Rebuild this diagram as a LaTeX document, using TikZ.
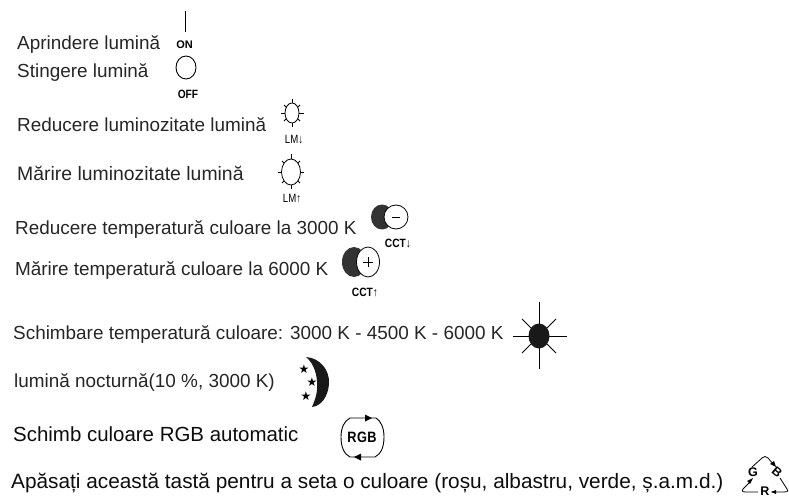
\documentclass[tikz,border=0pt]{standalone}
\usepackage{fontspec}
\setmainfont{Liberation Sans}
\newfontfamily\symfont{DejaVu Sans}
\usetikzlibrary{arrows.meta,shapes.geometric}
\tikzset{
 lab/.style={anchor=base west,inner sep=0pt,font=\fontsize{18.9pt}{20pt}\selectfont,text=black!85},
 bigger/.style={font=\fontsize{20.45pt}{22pt}\selectfont,text=black!95},
 biggest/.style={font=\fontsize{20.8pt}{22pt}\selectfont,text=black!95},
 small/.style={inner sep=0pt,font=\fontsize{12pt}{12pt}\selectfont\bfseries,xscale=.85},
 thin label/.style={inner sep=0pt,font=\fontsize{12pt}{12pt}\selectfont,xscale=.8},
 tri/.style={inner sep=0pt,font=\fontsize{12.5pt}{12pt}\selectfont\bfseries},
 icon/.style={draw=black,line width=.8pt,fill=white},
 ray/.style={line width=.8pt},
 moonstar/.style={inner sep=0pt,font=\fontsize{12pt}{12pt}\selectfont\symfont}
}
\begin{document}
\begin{tikzpicture}[x=1pt,y=-1pt]
\useasboundingbox (0,0) rectangle (789,497);
\node[lab] (t1) at (17,50) {Aprindere lumină};
\node[lab] (t2) at (17,78) {Stingere lumină};
\node[lab] (t3) at (17,132) {Reducere luminozitate lumină};
\node[lab,font=\fontsize{19.4pt}{20pt}\selectfont] (t4) at (17,181) {Mărire luminozitate lumină};
\node[lab] (t5) at (15,234) {Reducere temperatură culoare la 3000 K};
\node[lab] (t6) at (15,275) {Mărire temperatură culoare la 6000 K};
\node[lab] (t7) at (13,339) {Schimbare temperatură culoare: 3000 K - 4500 K - 6000 K};
\node[lab] (t8) at (14,387) {lumină nocturnă(10 \%, 3000 K)};
\node[lab,bigger] (t9) at (13,441) {Schimb culoare RGB automatic};
\node[lab,biggest] (t10) at (11,488) {Apăsați această tastă pentru a seta o culoare (roșu, albastru, verde, ș.a.m.d.)};
% ON/OFF
\draw[ray] (185,11) -- (185,32);
\node[inner sep=0pt,font=\fontsize{11pt}{11pt}\selectfont\bfseries] (on) at (184.5,44.5) {ON};
\draw[line width=.9pt] (186,67.5) ellipse (10 and 11.5);
\node[small] (off) at (188,94) {OFF};
% LM down
\draw[icon] (292,113) ellipse (7 and 10);
\foreach \a/\b/\c/\d in {292/99/292/103,292/123/292/127,281/113/285/113,299/113/304/113,284/105/286/107,298/107/300/105,284/121/286/119,298/119/300/121}
  \draw[ray] (\a,\b) -- (\c,\d);
\node[thin label] (lmd) at (294,140) {LM↓};
% LM up
\draw[icon] (291,172) ellipse (9.5 and 13);
\foreach \a/\b/\c/\d in {291/154/291/159,291/185/291/189,278/172/281/172,301/172/304/172,282/161/284/163,298/163/300/161,282/183/284/181,298/181/300/183}
  \draw[ray] (\a,\b) -- (\c,\d);
\node[thin label] (lmu) at (292,199) {LM↑};
% CCT-
\fill[black!80] (382,217) ellipse (11 and 12.5);
\draw[icon] (396,217) circle (12);
\draw[ray] (392,217) -- (400,217);
\node[small] (cctd) at (398,243) {CCT↓};
% CCT+
\fill[black!80] (354,262) ellipse (12 and 15);
\draw[icon] (368,262) ellipse (11.5 and 15);
\draw[ray] (363,262) -- (373,262) (368,257) -- (368,267);
\node[small] (cctu) at (365,292) {CCT↑};
% sun
\foreach \a/\r in {0/28,45/24,90/33,135/24,180/26,225/24,270/34,315/24}
  \draw[ray] (539,336) -- +(\a:\r);
\fill[black!90] (539,336) ellipse (10.5 and 12.5);
% moon
\fill[black!90] (306,357) .. controls (320,358) and (330,370) .. (329,384)
  .. controls (328,397) and (321,406) .. (312,407)
  .. controls (316,398) and (318,390) .. (317,381)
  .. controls (316,370) and (312,362) .. (306,357) -- cycle;
\node[moonstar] (s1) at (304,369) {★};
\node[moonstar] (s2) at (312,382) {★};
\node[moonstar] (s3) at (306,396) {★};
% RGB
\draw[line width=.9pt] (350,418) -- (376,418)
  .. controls (381,421) and (384,428) .. (384,437)
  .. controls (384,447) and (381,454) .. (375,457) -- (350,457)
  .. controls (344,454) and (341,447) .. (341,437)
  .. controls (341,428) and (344,421) .. (350,418) -- cycle;
\fill (372,418) -- (365,414.5) -- (365,421.5) -- cycle;
\fill (354,457) -- (361,453.5) -- (361,460.5) -- cycle;
\node[inner sep=0pt,font=\fontsize{15pt}{15pt}\selectfont\bfseries,xscale=.85] (rgb) at (362,437.5) {R\kern.6pt G\kern.6pt B};
% triangle
\draw[ray] (750,482) -- (743,489) .. controls (741,492) and (744,492) .. (746,492) -- (758,492);
\draw[ray] (752,467) -- (762,458) .. controls (764,456) and (766,456) .. (768,458) -- (774,465);
\draw[ray] (780,478) -- (787,489) .. controls (789,492) and (786,492) .. (784,492) -- (772,492);
\fill (776,467) -- (770,464) -- (774,461) -- cycle;
\fill (753,478) -- (747,481) -- (750,484) -- cycle;
\fill (771,492) -- (776,490) -- (776,494) -- cycle;
\node[tri] (g) at (753,472) {G};
\node[tri,rotate=-40] (b) at (777,472) {B};
\node[tri] (r) at (765,491) {R};
\end{tikzpicture}
\end{document}
